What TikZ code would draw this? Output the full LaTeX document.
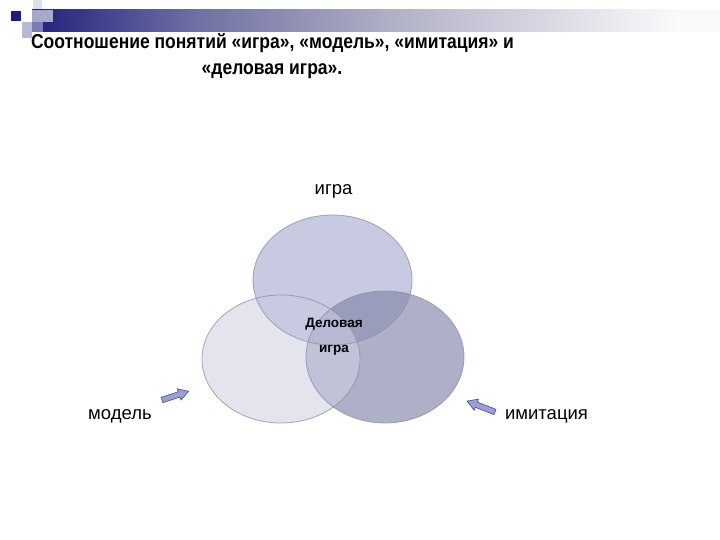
\documentclass[tikz,border=0pt]{standalone}
\usepackage{fontspec}
\setmainfont{Liberation Sans}
\definecolor{bardark}{HTML}{20207F}
\definecolor{barmid}{HTML}{7070A4}
\definecolor{barlight}{HTML}{B4B4C8}
\definecolor{barend}{HTML}{FAFAFC}
\definecolor{sqdark}{HTML}{1A1A8C}
\definecolor{sqlav}{HTML}{B8B8D8}
\definecolor{sqlight}{HTML}{E0E0EC}
\definecolor{topc}{HTML}{C8CAE2}
\definecolor{leftc}{HTML}{E4E4EE}
\definecolor{rightc}{HTML}{AEB0C8}
\definecolor{trc}{HTML}{9A9CBC}
\definecolor{lrc}{HTML}{C0C2D8}
\definecolor{triplec}{HTML}{B6B8D4}
\definecolor{edgec}{HTML}{8E90A8}
\definecolor{arrowfill}{HTML}{9A9EE0}
\definecolor{arrowedge}{HTML}{4A4C78}
\pgfdeclarehorizontalshading{barshade}{100bp}{color(0bp)=(bardark); color(25bp)=(bardark); color(37bp)=(barmid); color(52bp)=(barlight); color(72bp)=(barend); color(100bp)=(barend)}
\tikzset{
  lbl/.style={font=\fontsize{18.5}{22}\selectfont, inner sep=0pt},
  ttl/.style={font=\bfseries\fontsize{17.5}{21}\selectfont, inner sep=0pt, anchor=base},
  ctr/.style={font=\bfseries\fontsize{13.5}{16}\selectfont, inner sep=0pt},
  ring/.style={draw=edgec, line width=0.8pt, draw opacity=0.8},
  blockarrow/.style={fill=arrowfill, draw=arrowedge, line width=0.6pt, line join=round}
}
\begin{document}
\begin{tikzpicture}[x=1pt,y=-1pt]
\useasboundingbox (0,0) rectangle (720,540);
\fill[white] (0,0) rectangle (720,540);
% header decoration
\fill[sqlight] (33,0) rectangle (42,10);
\shade[shading=barshade] (32,10) rectangle (720,32);
\fill[white, opacity=0.6] (32,10) rectangle (53,22);
\fill[sqlav] (22,22) rectangle (32,38);
\fill[sqlav, opacity=0.6] (32,22) rectangle (43,32);
\fill[sqdark] (11,11) rectangle (21,21);
% title
\node[ttl] (title1) at (272.5,49) {\scalebox{1}[1.15]{Соотношение понятий «игра», «модель», «имитация» и}};
\node[ttl] (title2) at (272,75) {\scalebox{1}[1.15]{«деловая игра».}};
% Venn regions
\def\TopE{(332.5,280) ellipse [x radius=79.5, y radius=65]}
\def\LeftE{(281,359) ellipse [x radius=79, y radius=64]}
\def\RightE{(385,357) ellipse [x radius=79, y radius=66]}
\fill[leftc] \LeftE;
\fill[topc] \TopE;
\fill[rightc] \RightE;
\begin{scope}
  \clip \TopE;
  \fill[trc] \RightE;
\end{scope}
\begin{scope}
  \clip \LeftE;
  \fill[lrc] \RightE;
\end{scope}
\begin{scope}
  \clip \LeftE;
  \clip \TopE;
  \fill[triplec] \RightE;
\end{scope}
\draw[ring] \LeftE;
\draw[ring] \TopE;
\draw[ring] \RightE;
% labels
\node[lbl, anchor=base] (igra) at (333.5,195) {игра};
\node[lbl, anchor=base] (model) at (120,419) {модель};
\node[lbl, anchor=base] (imit) at (546.5,419) {имитация};
\node[ctr, anchor=base] (del1) at (334,327) {Деловая};
\node[ctr, anchor=base] (del2) at (334,352) {игра};
% block arrows
\coordinate (la) at (162,400);
\coordinate (ra) at (495,412);
\begin{scope}[shift={(la)}, rotate=18]
  \draw[blockarrow] (0,-2.8) -- (18,-2.8) -- (18,-6) -- (28,0) -- (18,6) -- (18,2.8) -- (0,2.8) -- cycle;
\end{scope}
\begin{scope}[shift={(ra)}, rotate=158.6]
  \draw[blockarrow] (0,-2.8) -- (20,-2.8) -- (20,-6) -- (30,0) -- (20,6) -- (20,2.8) -- (0,2.8) -- cycle;
\end{scope}
\end{tikzpicture}
\end{document}
